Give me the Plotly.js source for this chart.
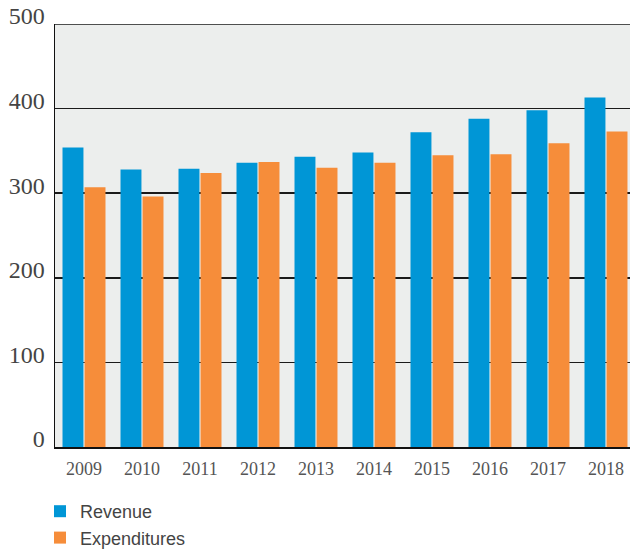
<!DOCTYPE html>
<html>
<head>
<meta charset="utf-8">
<script src="https://cdn.plot.ly/plotly-3.0.1.min.js"></script>
<style>html,body{margin:0;padding:0;background:#fff;overflow:hidden}</style>
</head>
<body>
<div id="chart" style="width:630px;height:552px"></div>
<script>
const years = ['2009','2010','2011','2012','2013','2014','2015','2016','2017','2018'];
const revenue = [354, 328, 329, 336, 343, 348, 372, 388, 398, 413];
const expenditures = [307, 296, 324, 337, 330, 336, 345, 346, 359, 373];
const yTicks = [0, 100, 200, 300, 400, 500];
const yMax = 500;

const traces = [
  {type:'bar', name:'Revenue', x:years, y:revenue, marker:{color:'#0096d6'}, legendgroup:'a', hoverinfo:'skip'},
  {type:'bar', name:'Expenditures', x:years, y:expenditures, marker:{color:'#f68d3a'}, legendgroup:'b', hoverinfo:'skip'}
];

const layout = {
  width:630, height:552,
  margin:{l:55, r:0, t:23.6, b:104.5, pad:0, autoexpand:false},
  paper_bgcolor:'#ffffff',
  plot_bgcolor:'#eceeed',
  barmode:'group',
  bargap:0.24,
  bargroupgap:0.05,
  showlegend:true,
  legend:{
    orientation:'v', xref:'container', yref:'container', x:40/630, y:1-493/552,
    xanchor:'left', yanchor:'top',
    font:{family:'Liberation Sans, Arial, sans-serif', size:18, color:'#444'},
    tracegroupgap:15, traceorder:'normal', bgcolor:'rgba(0,0,0,0)'
  },
  shapes:[{type:'line', xref:'paper', x0:0, x1:1, yref:'y', y0:yMax, y1:yMax,
           line:{color:'#1a1a1a', width:1.5}, layer:'above'}],
  xaxis:{
    type:'category', range:[-0.5, 9.414],
    showgrid:false, zeroline:false,
    showline:true, linecolor:'#111', linewidth:1.5,
    ticks:'', ticklabelstandoff:5,
    tickfont:{family:'Liberation Serif, Times New Roman, serif', size:18, color:'#555'}
  },
  yaxis:{
    range:[0,yMax], tickvals:yTicks, ticktext:yTicks.map(String),
    showgrid:true, gridcolor:'#1a1a1a', gridwidth:1.5,
    zeroline:false, showline:true, linecolor:'#111', linewidth:1.5,
    ticks:'', ticklabelstandoff:4, ticklabelshift:-8,
    tickfont:{family:'Liberation Serif, Times New Roman, serif', size:24, color:'#444'}
  }
};

Plotly.newPlot('chart', traces, layout, {displayModeBar:false, staticPlot:true});
</script>
</body>
</html>
